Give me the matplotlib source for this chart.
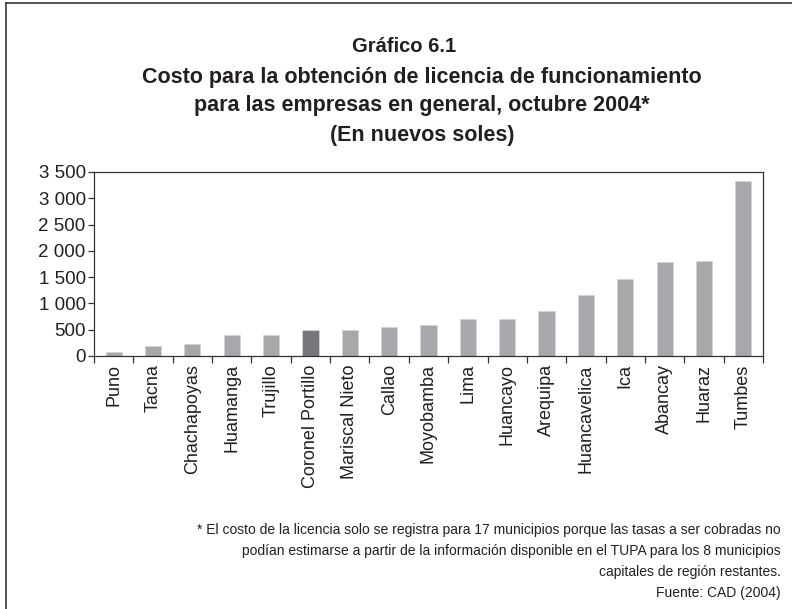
import matplotlib.pyplot as plt
from matplotlib.lines import Line2D
from matplotlib.ticker import FuncFormatter, FixedLocator

plt.rcParams['font.family'] = ['Liberation Sans', 'DejaVu Sans']

# costo de licencia por municipio (nuevos soles)
municipios = ['Puno', 'Tacna', 'Chachapoyas', 'Huamanga', 'Trujillo',
              'Coronel Portillo', 'Mariscal Nieto', 'Callao', 'Moyobamba',
              'Lima', 'Huancayo', 'Arequipa', 'Huancavelica', 'Ica',
              'Abancay', 'Huaraz', 'Tumbes']
costo = [70, 185, 228, 393, 393, 488, 502, 559, 584, 711, 711, 850,
         1168, 1459, 1788, 1814, 3329]
destacado = 'Coronel Portillo'

yticks = [0, 500, 1000, 1500, 2000, 2500, 3000, 3500]

titulo = 'Gráfico 6.1'
subtitulo = ['Costo para la obtención de licencia de funcionamiento',
             'para las empresas en general, octubre 2004*',
             '(En nuevos soles)']
nota = ['* El costo de la licencia solo se registra para 17 municipios porque las tasas a ser cobradas no',
        'podían estimarse a partir de la información disponible en el TUPA para los 8 municipios',
        'capitales de región restantes.',
        'Fuente: CAD (2004)']

W, H = 792, 609
txt = '#231f20'
fig = plt.figure(figsize=(W / 100, H / 100), dpi=100)
ax = fig.add_axes([94 / W, 1 - 356 / H, (763 - 94) / W, (356 - 172) / H])

colores = ['#77787b' if m == destacado else '#a7a8ab' for m in municipios]
x = range(len(municipios))
ax.bar(x, costo, width=0.41, color=colores, edgecolor='#d2d3d5', linewidth=0.6, zorder=2)

ax.set_xlim(-0.5, len(municipios) - 0.5)
ax.set_ylim(0, 3500)
ax.set_yticks(yticks)
ax.yaxis.set_major_formatter(FuncFormatter(lambda v, p: f'{int(v):,}'.replace(',', ' ')))
ax.set_xticks(list(x))
ax.set_xticklabels(municipios, rotation=90)
ax.xaxis.set_minor_locator(FixedLocator([i + 0.5 for i in range(-1, len(municipios))]))
ax.tick_params(axis='x', which='major', length=0, pad=6, labelsize=13, labelcolor=txt)
ax.tick_params(axis='x', which='minor', length=5, width=0.9, direction='out', color='#333333')
ax.tick_params(axis='y', length=4, width=0.9, direction='out', color='#333333',
               labelsize=13.5, labelcolor=txt, pad=2)
for s in ax.spines.values():
    s.set_color('#333333')
    s.set_linewidth(0.9)

# encabezado
fig.text(404 / W, 1 - 46 / H, titulo, ha='center', va='center', fontsize=14.5,
         fontweight='bold', color=txt)
for i, linea in enumerate(subtitulo):
    fig.text(422 / W, 1 - (77 + 29 * i) / H, linea, ha='center', va='center',
             fontsize=15.5, fontweight='bold', color=txt)

# nota al pie
for i, linea in enumerate(nota):
    fig.text(781 / W, 1 - (530 + 21 * i) / H, linea, ha='right', va='center',
             fontsize=10, color=txt)

# marco superior e izquierdo
fig.add_artist(Line2D([6 / W, 6 / W], [0, 1 - 3 / H], transform=fig.transFigure,
                      color='#333333', lw=1.2))
fig.add_artist(Line2D([6 / W, 1], [1 - 3 / H, 1 - 3 / H], transform=fig.transFigure,
                      color='#333333', lw=1.2))

fig.savefig('out.png', dpi=100)
